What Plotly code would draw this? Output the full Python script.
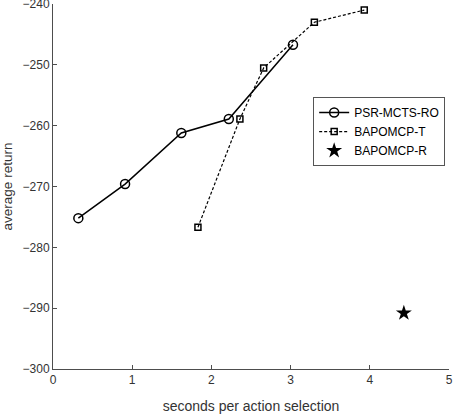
import plotly.graph_objects as go

psr_x = [0.32, 0.91, 1.62, 2.22, 3.03]
psr_y = [-275.2, -269.6, -261.2, -258.9, -246.7]
bt_x = [1.83, 2.36, 2.66, 3.30, 3.93]
bt_y = [-276.7, -258.9, -250.5, -243.0, -241.0]
br_x = [4.43]
br_y = [-290.8]

fig = go.Figure()
fig.add_trace(go.Scatter(x=psr_x, y=psr_y, mode="lines+markers", name="PSR-MCTS-RO",
                         line=dict(color="black", width=1.5),
                         marker=dict(symbol="circle-open", size=9, color="black", line=dict(width=1.5))))
fig.add_trace(go.Scatter(x=bt_x, y=bt_y, mode="lines+markers", name="BAPOMCP-T",
                         line=dict(color="black", width=1.2, dash="3px,2px"),
                         marker=dict(symbol="square-open", size=6, color="black", line=dict(width=1.5))))
fig.add_trace(go.Scatter(x=br_x, y=br_y, mode="markers", name="BAPOMCP-R",
                         marker=dict(symbol="star", size=12, color="black")))

axis_common = dict(showgrid=False, zeroline=False, showline=True, linecolor="#4d4d4d", linewidth=1,
                   ticks="inside", ticklen=4, tickcolor="#4d4d4d", automargin=False,
                   ticklabeloverflow="allow",
                   tickfont=dict(family="Liberation Sans, Arial", size=12, color="#333333"))
fig.update_xaxes(range=[0, 5], dtick=1, title_text="seconds per action selection",
                 title_font=dict(family="Liberation Sans, Arial", size=14, color="#333333"), **axis_common)
fig.update_yaxes(range=[-300, -240], dtick=10, title_text="average return",
                 title_font=dict(family="Liberation Sans, Arial", size=13.5, color="#333333"), **axis_common)

fig.update_layout(width=454, height=414, margin=dict(l=53, r=5, t=4, b=45),
                  plot_bgcolor="white", paper_bgcolor="white",
                  legend=dict(x=0.657, y=0.745, xanchor="left", yanchor="top",
                              bgcolor="white", bordercolor="#555555", borderwidth=1,
                              font=dict(family="Liberation Sans, Arial", size=12, color="black"),
                              itemwidth=30, itemsizing="trace", tracegroupgap=0))
fig.write_html("out.html", config={"displayModeBar": False},
               post_script="document.body.style.margin='0px';document.body.style.overflow='hidden';")
